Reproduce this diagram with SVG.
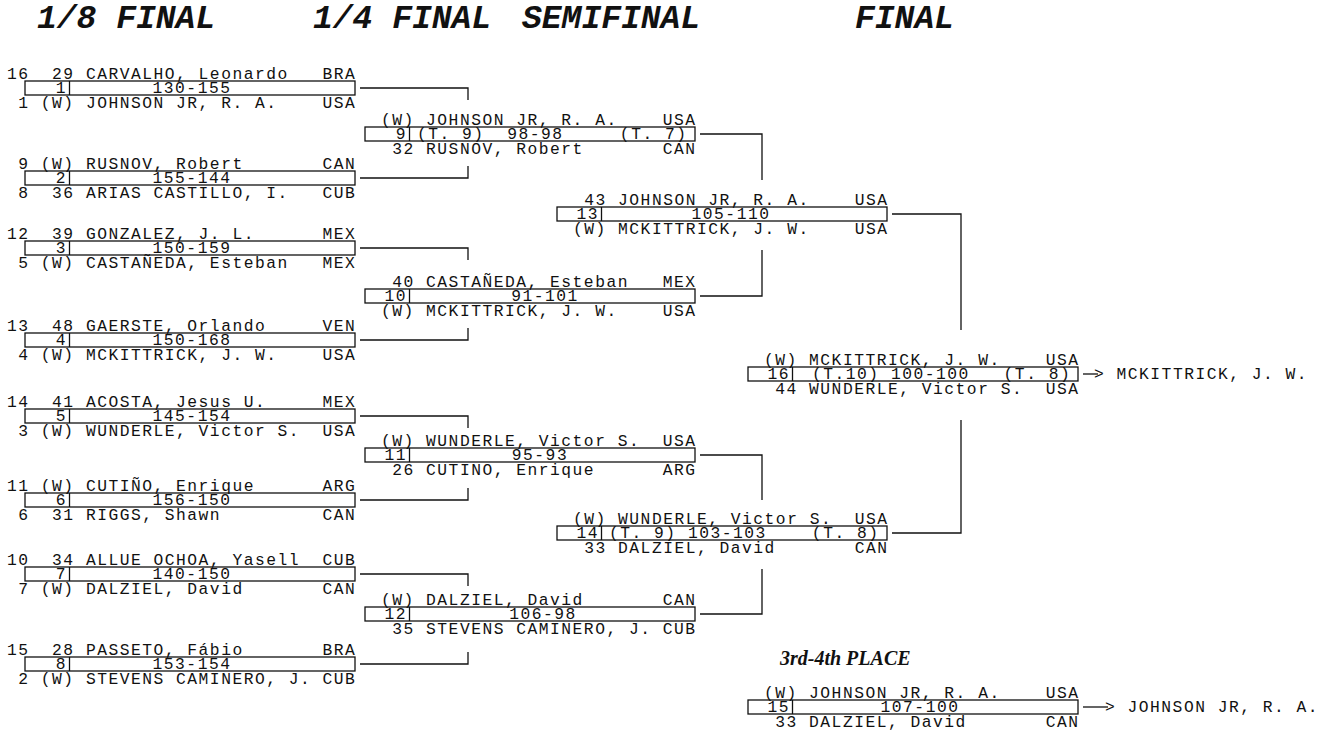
<svg xmlns="http://www.w3.org/2000/svg" width="1335" height="730" viewBox="0 0 1335 730" xml:space="preserve">
<style>
text{font-family:"Liberation Mono","Courier New",monospace;font-size:16.3px;letter-spacing:1.5px;fill:#111;white-space:pre}
.h{font-size:33px;letter-spacing:0;font-weight:bold;font-style:italic}
.p{font-family:"Liberation Serif","Times New Roman",serif;font-size:20px;letter-spacing:0;font-weight:bold;font-style:italic}
.n{text-anchor:end}
.s{text-anchor:middle}
.bx{fill:none;stroke:#111;stroke-width:1.3}
.cn path{fill:none;stroke:#111;stroke-width:1.3}
</style>
<rect width="1335" height="730" fill="#fff"/>
<text class="h" x="37" y="28">1/8 FINAL</text>
<text class="h" x="313" y="28">1/4 FINAL</text>
<text class="h" x="522" y="28">SEMIFINAL</text>
<text class="h" x="855" y="28">FINAL</text>
<text class="p" x="780" y="665">3rd-4th PLACE</text>

<g id="m1">
<text x="7" y="79">16  29 CARVALHO, Leonardo   BRA</text>
<rect class="bx" x="25" y="81" width="330" height="14"/><path class="bx" d="M69.5 81V95"/>
<text class="n" x="67" y="93.3">1</text><text class="s" x="192" y="93.3">130-155</text>
<text x="7" y="107.5"> 1 (W) JOHNSON JR, R. A.    USA</text>
</g>
<g id="m2">
<text x="7" y="169"> 9 (W) RUSNOV, Robert       CAN</text>
<rect class="bx" x="25" y="171" width="330" height="14"/><path class="bx" d="M69.5 171V185"/>
<text class="n" x="67" y="183.3">2</text><text class="s" x="192" y="183.3">155-144</text>
<text x="7" y="197.5"> 8  36 ARIAS CASTILLO, I.   CUB</text>
</g>
<g id="m3">
<text x="7" y="239">12  39 GONZALEZ, J. L.      MEX</text>
<rect class="bx" x="25" y="241" width="330" height="14"/><path class="bx" d="M69.5 241V255"/>
<text class="n" x="67" y="253.3">3</text><text class="s" x="192" y="253.3">150-159</text>
<text x="7" y="267.5"> 5 (W) CASTAÑEDA, Esteban   MEX</text>
</g>
<g id="m4">
<text x="7" y="331">13  48 GAERSTE, Orlando     VEN</text>
<rect class="bx" x="25" y="333" width="330" height="14"/><path class="bx" d="M69.5 333V347"/>
<text class="n" x="67" y="345.3">4</text><text class="s" x="192" y="345.3">150-168</text>
<text x="7" y="359.5"> 4 (W) MCKITTRICK, J. W.    USA</text>
</g>
<g id="m5">
<text x="7" y="407">14  41 ACOSTA, Jesus U.     MEX</text>
<rect class="bx" x="25" y="409" width="330" height="14"/><path class="bx" d="M69.5 409V423"/>
<text class="n" x="67" y="421.3">5</text><text class="s" x="192" y="421.3">145-154</text>
<text x="7" y="435.5"> 3 (W) WUNDERLE, Victor S.  USA</text>
</g>
<g id="m6">
<text x="7" y="491">11 (W) CUTIÑO, Enrique      ARG</text>
<rect class="bx" x="25" y="493" width="330" height="14"/><path class="bx" d="M69.5 493V507"/>
<text class="n" x="67" y="505.3">6</text><text class="s" x="192" y="505.3">156-150</text>
<text x="7" y="519.5"> 6  31 RIGGS, Shawn         CAN</text>
</g>
<g id="m7">
<text x="7" y="565">10  34 ALLUE OCHOA, Yasell  CUB</text>
<rect class="bx" x="25" y="567" width="330" height="14"/><path class="bx" d="M69.5 567V581"/>
<text class="n" x="67" y="579.3">7</text><text class="s" x="192" y="579.3">140-150</text>
<text x="7" y="593.5"> 7 (W) DALZIEL, David       CAN</text>
</g>
<g id="m8">
<text x="7" y="655">15  28 PASSETO, Fábio       BRA</text>
<rect class="bx" x="25" y="657" width="330" height="14"/><path class="bx" d="M69.5 657V671"/>
<text class="n" x="67" y="669.3">8</text><text class="s" x="192" y="669.3">153-154</text>
<text x="7" y="683.5"> 2 (W) STEVENS CAMINERO, J. CUB</text>
</g>

<g id="m9">
<text x="381" y="125">(W) JOHNSON JR, R. A.    USA</text>
<rect class="bx" x="365" y="127" width="330" height="14"/><path class="bx" d="M409.5 127V141"/>
<text class="n" x="407" y="139.3">9</text><text x="417" y="139.3">(T. 9)  98-98     (T. 7)</text>
<text x="381" y="153.5"> 32 RUSNOV, Robert       CAN</text>
</g>
<g id="m10">
<text x="381" y="287"> 40 CASTAÑEDA, Esteban   MEX</text>
<rect class="bx" x="365" y="289" width="330" height="14"/><path class="bx" d="M409.5 289V303"/>
<text class="n" x="407" y="301.3">10</text><text class="s" x="545" y="301.3">91-101</text>
<text x="381" y="315.5">(W) MCKITTRICK, J. W.    USA</text>
</g>
<g id="m11">
<text x="381" y="446">(W) WUNDERLE, Victor S.  USA</text>
<rect class="bx" x="365" y="448" width="330" height="14"/><path class="bx" d="M409.5 448V462"/>
<text class="n" x="407" y="460.3">11</text><text class="s" x="540" y="460.3">95-93</text>
<text x="381" y="474.5"> 26 CUTINO, Enrique      ARG</text>
</g>
<g id="m12">
<text x="381" y="605">(W) DALZIEL, David       CAN</text>
<rect class="bx" x="365" y="607" width="330" height="14"/><path class="bx" d="M409.5 607V621"/>
<text class="n" x="407" y="619.3">12</text><text class="s" x="543" y="619.3">106-98</text>
<text x="381" y="633.5"> 35 STEVENS CAMINERO, J. CUB</text>
</g>

<g id="m13">
<text x="573" y="205"> 43 JOHNSON JR, R. A.    USA</text>
<rect class="bx" x="557" y="207" width="330" height="14"/><path class="bx" d="M601.5 207V221"/>
<text class="n" x="599" y="219.3">13</text><text class="s" x="731" y="219.3">105-110</text>
<text x="573" y="233.5">(W) MCKITTRICK, J. W.    USA</text>
</g>
<g id="m14">
<text x="573" y="524">(W) WUNDERLE, Victor S.  USA</text>
<rect class="bx" x="557" y="526" width="330" height="14"/><path class="bx" d="M601.5 526V540"/>
<text class="n" x="599" y="538.3">14</text><text x="609" y="538.3">(T. 9) 103-103    (T. 8)</text>
<text x="573" y="552.5"> 33 DALZIEL, David       CAN</text>
</g>

<g id="m16">
<text x="764" y="365">(W) MCKITTRICK, J. W.    USA</text>
<rect class="bx" x="748" y="367" width="330" height="14"/><path class="bx" d="M792.5 367V381"/>
<text class="n" x="790" y="379.3">16</text><text x="812" y="379.3">(T.10) 100-100   (T. 8)</text>
<text x="764" y="393.5"> 44 WUNDERLE, Victor S.  USA</text>
<text x="1094" y="379.3">&gt; MCKITTRICK, J. W.</text>
</g>
<g id="m15">
<text x="764" y="698">(W) JOHNSON JR, R. A.    USA</text>
<rect class="bx" x="748" y="700" width="330" height="14"/><path class="bx" d="M792.5 700V714"/>
<text class="n" x="790" y="712.3">15</text><text class="s" x="920" y="712.3">107-100</text>
<text x="764" y="726.5"> 33 DALZIEL, David       CAN</text>
<text x="1105" y="712.3">&gt; JOHNSON JR, R. A.</text>
</g>

<g id="connectors" class="cn">
<path d="M360 88H468V100"/>
<path d="M360 178H468V166"/>
<path d="M360 248H468V260"/>
<path d="M360 340H468V328"/>
<path d="M360 416H468V428"/>
<path d="M360 500H468V488"/>
<path d="M360 574H468V586"/>
<path d="M360 664H468V652"/>
<path d="M700 134H762V180"/>
<path d="M700 296H762V250"/>
<path d="M700 455H762V500"/>
<path d="M700 614H762V569"/>
<path d="M892 214H961V330"/>
<path d="M892 533H961V420"/>
<path d="M1083 374H1098"/>
<path d="M1083 707H1108"/>
</g>
</svg>
